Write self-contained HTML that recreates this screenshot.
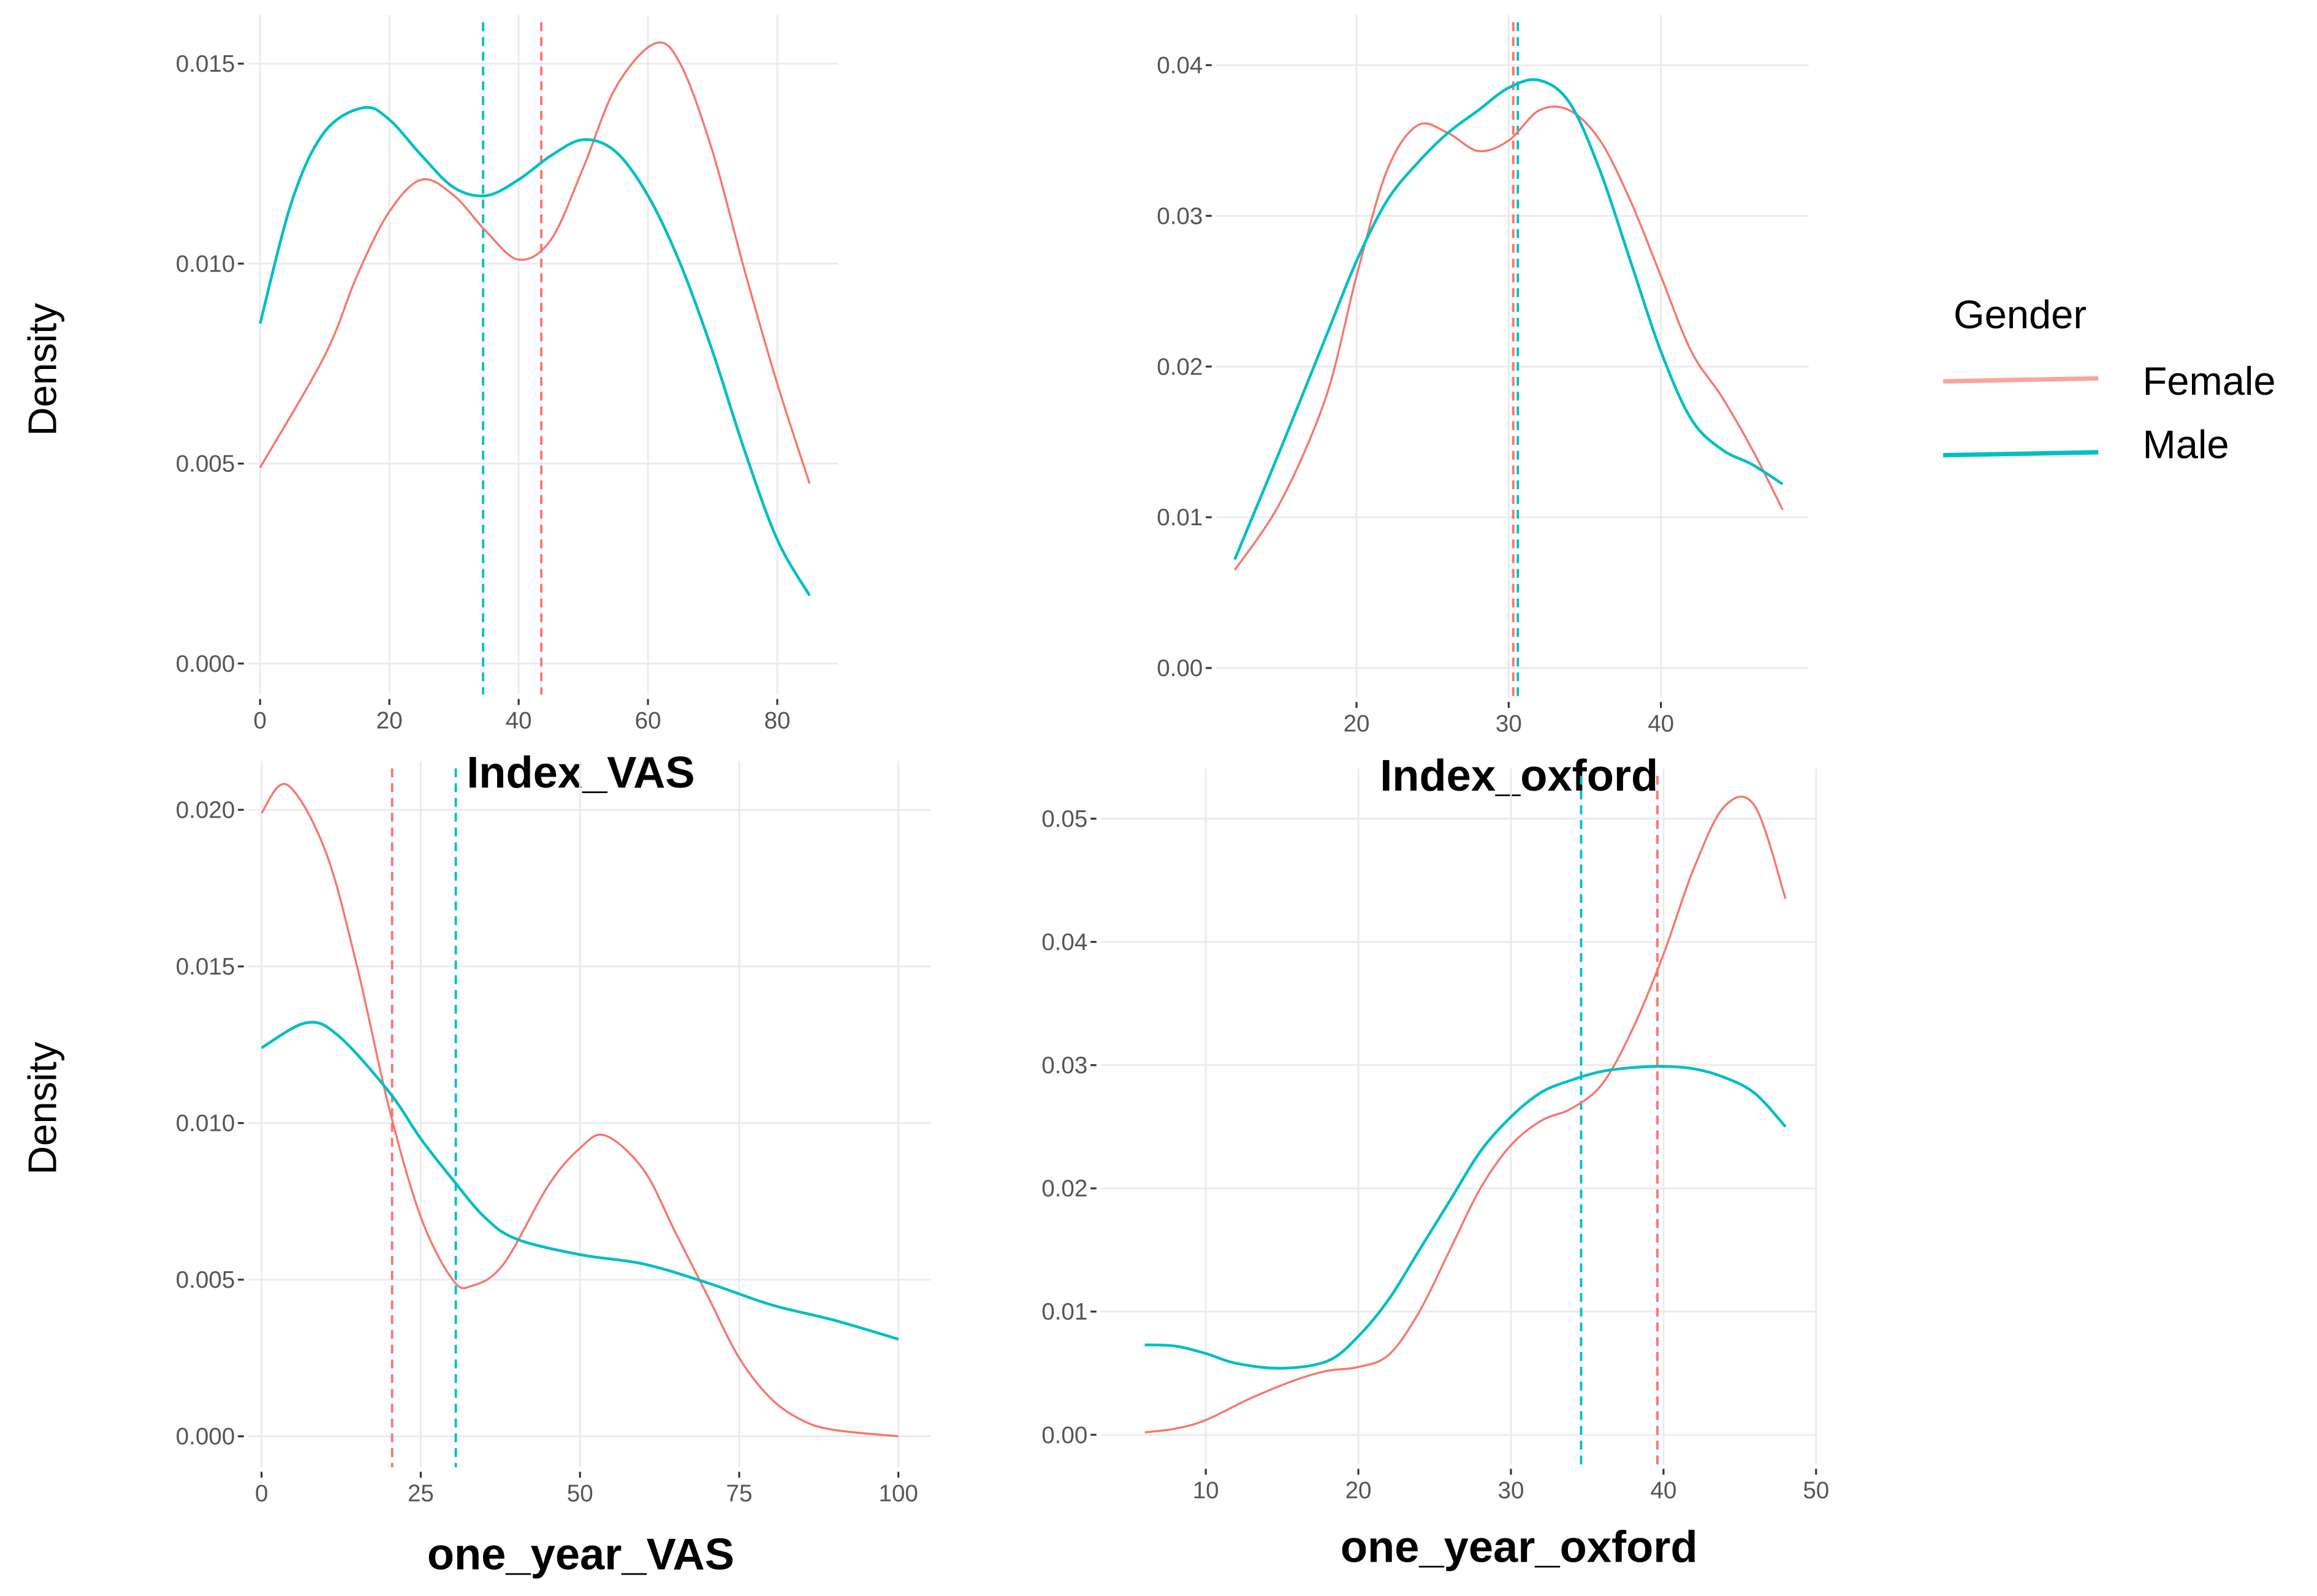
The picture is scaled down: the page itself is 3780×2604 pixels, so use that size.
<!DOCTYPE html>
<html><head><meta charset="utf-8">
<style>
html,body{margin:0;padding:0;background:#fff;}
svg{display:block;}
.tick{font-family:"Liberation Sans",sans-serif;font-size:16px;fill:#555;}
.ttl{font-family:"Liberation Sans",sans-serif;font-size:30px;font-weight:bold;fill:#000;}
.lab{font-family:"Liberation Sans",sans-serif;font-size:27px;fill:#000;}
</style></head>
<body>
<svg id="fig" width="3780" height="2604" viewBox="0 0 1568 1080" xmlns="http://www.w3.org/2000/svg">
<g id="panels"></g>
<text class="lab" transform="translate(38,250) rotate(-90)" text-anchor="middle">Density</text>
<text class="lab" transform="translate(38,750) rotate(-90)" text-anchor="middle">Density</text>
<g>
<text class="lab" x="1322" y="222">Gender</text>
<line x1="1315" y1="258" x2="1420" y2="256" stroke="#F8A5A0" stroke-width="3"/>
<text class="lab" x="1450" y="267">Female</text>
<line x1="1315" y1="308" x2="1420" y2="306" stroke="#00BFC4" stroke-width="3"/>
<text class="lab" x="1450" y="310">Male</text>
</g>
</svg>
<script>
// Panel 1: Index_VAS
const p1FemaleX=[0,10,15,20,25,30,35,40,45,50,55,61,65,70,75,80,85];
const p1FemaleY=[0.0049,0.0077,0.0097,0.0113,0.0121,0.0117,0.0108,0.0101,0.0106,0.0124,0.0144,0.0155,0.0150,0.0128,0.0098,0.0070,0.0045];
const p1MaleX=[0,5,10,16,20,25,30,35,40,45,50,55,60,65,70,75,80,85];
const p1MaleY=[0.0085,0.0116,0.0133,0.0139,0.0136,0.0127,0.0119,0.0117,0.0121,0.0127,0.0131,0.0128,0.0117,0.0100,0.0078,0.0053,0.0031,0.0017];
const p1Means=[43.5,34.5];
const p1XTicks=[0,20,40,60,80];
const p1YTicks=[0,0.005,0.010,0.015];
const p1YLabels=["0.000","0.005","0.010","0.015"];
// Panel 2: Index_oxford
const p2FemaleX=[12,15,18,20,22,24,26,28,30,32,34,36,38,40,42,44,46,48];
const p2FemaleY=[0.0065,0.011,0.018,0.026,0.033,0.036,0.0355,0.0343,0.035,0.037,0.037,0.035,0.031,0.026,0.021,0.018,0.0145,0.0105];
const p2MaleX=[12,15,18,20,22,24,26,28,30,32,34,36,38,40,42,44,46,48];
const p2MaleY=[0.0072,0.0145,0.022,0.027,0.031,0.0335,0.0355,0.037,0.0385,0.039,0.0375,0.033,0.027,0.021,0.0165,0.0145,0.0135,0.0122];
const p2Means=[30.3,30.6];
const p2XTicks=[20,30,40];
const p2YTicks=[0,0.01,0.02,0.03,0.04];
const p2YLabels=["0.00","0.01","0.02","0.03","0.04"];
// Panel 3: one_year_VAS
const p3FemaleX=[0,4,10,15,20,25,30,33,38,45,50,54,60,65,70,75,80,85,90,100];
const p3FemaleY=[0.0199,0.0208,0.0187,0.0150,0.0105,0.0070,0.0050,0.0048,0.0055,0.0080,0.0092,0.0096,0.0085,0.0065,0.0045,0.0025,0.0012,0.0005,0.0002,0.0];
const p3MaleX=[0,7,12,20,25,30,35,40,50,60,70,80,90,100];
const p3MaleY=[0.0124,0.0132,0.0128,0.0110,0.0095,0.0082,0.0070,0.0063,0.0058,0.0055,0.0049,0.0042,0.0037,0.0031];
const p3Means=[20.5,30.5];
const p3XTicks=[0,25,50,75,100];
const p3YTicks=[0,0.005,0.010,0.015,0.020];
const p3YLabels=["0.000","0.005","0.010","0.015","0.020"];
// Panel 4: one_year_oxford
const p4FemaleX=[6,8,10,13,16,18,20,22,24,26,28,30,32,34,36,38,40,42,44,46,48];
const p4FemaleY=[0.0002,0.0005,0.0012,0.003,0.0045,0.0052,0.0055,0.0065,0.010,0.015,0.020,0.0235,0.0255,0.0265,0.0285,0.033,0.039,0.046,0.051,0.051,0.0435];
const p4MaleX=[6,8,10,12,15,18,20,22,24,26,28,30,32,34,36,38,40,42,44,46,48];
const p4MaleY=[0.0073,0.0072,0.0066,0.0058,0.0054,0.0060,0.0080,0.011,0.015,0.019,0.023,0.0258,0.0278,0.0288,0.0295,0.0298,0.0299,0.0297,0.029,0.0277,0.025];
const p4Means=[39.6,34.6];
const p4XTicks=[10,20,30,40,50];
const p4YTicks=[0,0.01,0.02,0.03,0.04,0.05];
const p4YLabels=["0.00","0.01","0.02","0.03","0.04","0.05"];

const NS="http://www.w3.org/2000/svg";
const root=document.getElementById('panels');
function mk(tag,attrs,parent){const e=document.createElementNS(NS,tag);for(const k in attrs)e.setAttribute(k,attrs[k]);parent.appendChild(e);return e;}
function smooth(pts){
  let d="M"+pts[0][0].toFixed(2)+","+pts[0][1].toFixed(2);
  for(let i=0;i<pts.length-1;i++){
    const p0=pts[i-1]||pts[i],p1=pts[i],p2=pts[i+1],p3=pts[i+2]||p2;
    const c1=[p1[0]+(p2[0]-p0[0])/6,p1[1]+(p2[1]-p0[1])/6];
    const c2=[p2[0]-(p3[0]-p1[0])/6,p2[1]-(p3[1]-p1[1])/6];
    d+=" C"+c1[0].toFixed(2)+","+c1[1].toFixed(2)+" "+c2[0].toFixed(2)+","+c2[1].toFixed(2)+" "+p2[0].toFixed(2)+","+p2[1].toFixed(2);
  }
  return d;
}
function panel(cfg){
  const g=mk('g',{},root);
  
  
  const sx=v=>cfg.px0+(v-cfg.x0)*(cfg.px1-cfg.px0)/(cfg.x1-cfg.x0);
  const sy=v=>cfg.py0+(v-cfg.y0)*(cfg.py1-cfg.py0)/(cfg.y1-cfg.y0);
  cfg.yt.forEach((t,i)=>{
    const l=mk('line',{x1:cfg.L,x2:cfg.R,y1:sy(t),y2:sy(t),stroke:'#ebebeb','stroke-width':1.2},g);
    
    
    mk('line',{x1:cfg.L-7,x2:cfg.L-3,y1:sy(t),y2:sy(t),stroke:'#333','stroke-width':1.3},g);
    const tx=mk('text',{x:cfg.L-9,y:sy(t)+5.5,'text-anchor':'end',class:'tick'},g);
    tx.textContent=cfg.yl[i];
    
    
  });
  cfg.xt.forEach(t=>{
    const l=mk('line',{x1:sx(t),x2:sx(t),y1:cfg.T,y2:cfg.B,stroke:'#ebebeb','stroke-width':1.2},g);
    
    
    mk('line',{x1:sx(t),x2:sx(t),y1:cfg.B+3,y2:cfg.B+7,stroke:'#333','stroke-width':1.3},g);
    const tx=mk('text',{x:sx(t),y:cfg.B+23,'text-anchor':'middle',class:'tick'},g);
    tx.textContent=String(t);
    
    
  });
  const cols=['#F8766D','#00BFC4'];
  cfg.means.forEach((m,i)=>{
    const l=mk('line',{x1:sx(m),x2:sx(m),y1:cfg.T+5,y2:cfg.B,stroke:cols[i],'stroke-width':1.6,'stroke-dasharray':'6,4'},g);
    
    
  });
  const fp=cfg.fx.map((x,i)=>[sx(x),sy(cfg.fy[i])]);
  const mp=cfg.mx.map((x,i)=>[sx(x),sy(cfg.my[i])]);
  const f=mk('path',{d:smooth(fp),fill:'none',stroke:'#F8766D','stroke-width':1.4},g);
  
  
  const m=mk('path',{d:smooth(mp),fill:'none',stroke:'#00BFC4','stroke-width':1.9},g);
  
  
  const tt=mk('text',{x:cfg.tx,y:cfg.ty,'text-anchor':'middle',class:'ttl'},g);
  tt.textContent=cfg.title;
  
  
}
panel({name:'panel-index-vas',x0:0,x1:80,px0:176,px1:526,y0:0,y1:0.015,py0:449,py1:43,L:168,R:567,T:10,B:470,
  xt:p1XTicks,yt:p1YTicks,yl:p1YLabels,fx:p1FemaleX,fy:p1FemaleY,mx:p1MaleX,my:p1MaleY,means:p1Means,title:'Index_VAS',tx:393,ty:533});
panel({name:'panel-index-oxford',x0:20,x1:40,px0:918,px1:1124,y0:0,y1:0.04,py0:452,py1:44,L:823,R:1224,T:10,B:472,
  xt:p2XTicks,yt:p2YTicks,yl:p2YLabels,fx:p2FemaleX,fy:p2FemaleY,mx:p2MaleX,my:p2MaleY,means:p2Means,title:'Index_oxford',tx:1028,ty:535});
panel({name:'panel-one-year-vas',x0:0,x1:100,px0:177,px1:608,y0:0,y1:0.02,py0:972,py1:548,L:168,R:630,T:515,B:993,
  xt:p3XTicks,yt:p3YTicks,yl:p3YLabels,fx:p3FemaleX,fy:p3FemaleY,mx:p3MaleX,my:p3MaleY,means:p3Means,title:'one_year_VAS',tx:393,ty:1062});
panel({name:'panel-one-year-oxford',x0:10,x1:50,px0:816,px1:1229,y0:0,y1:0.05,py0:971,py1:554,L:745,R:1230,T:520,B:991,
  xt:p4XTicks,yt:p4YTicks,yl:p4YLabels,fx:p4FemaleX,fy:p4FemaleY,mx:p4MaleX,my:p4MaleY,means:p4Means,title:'one_year_oxford',tx:1028,ty:1057});
</script>
</body></html>
